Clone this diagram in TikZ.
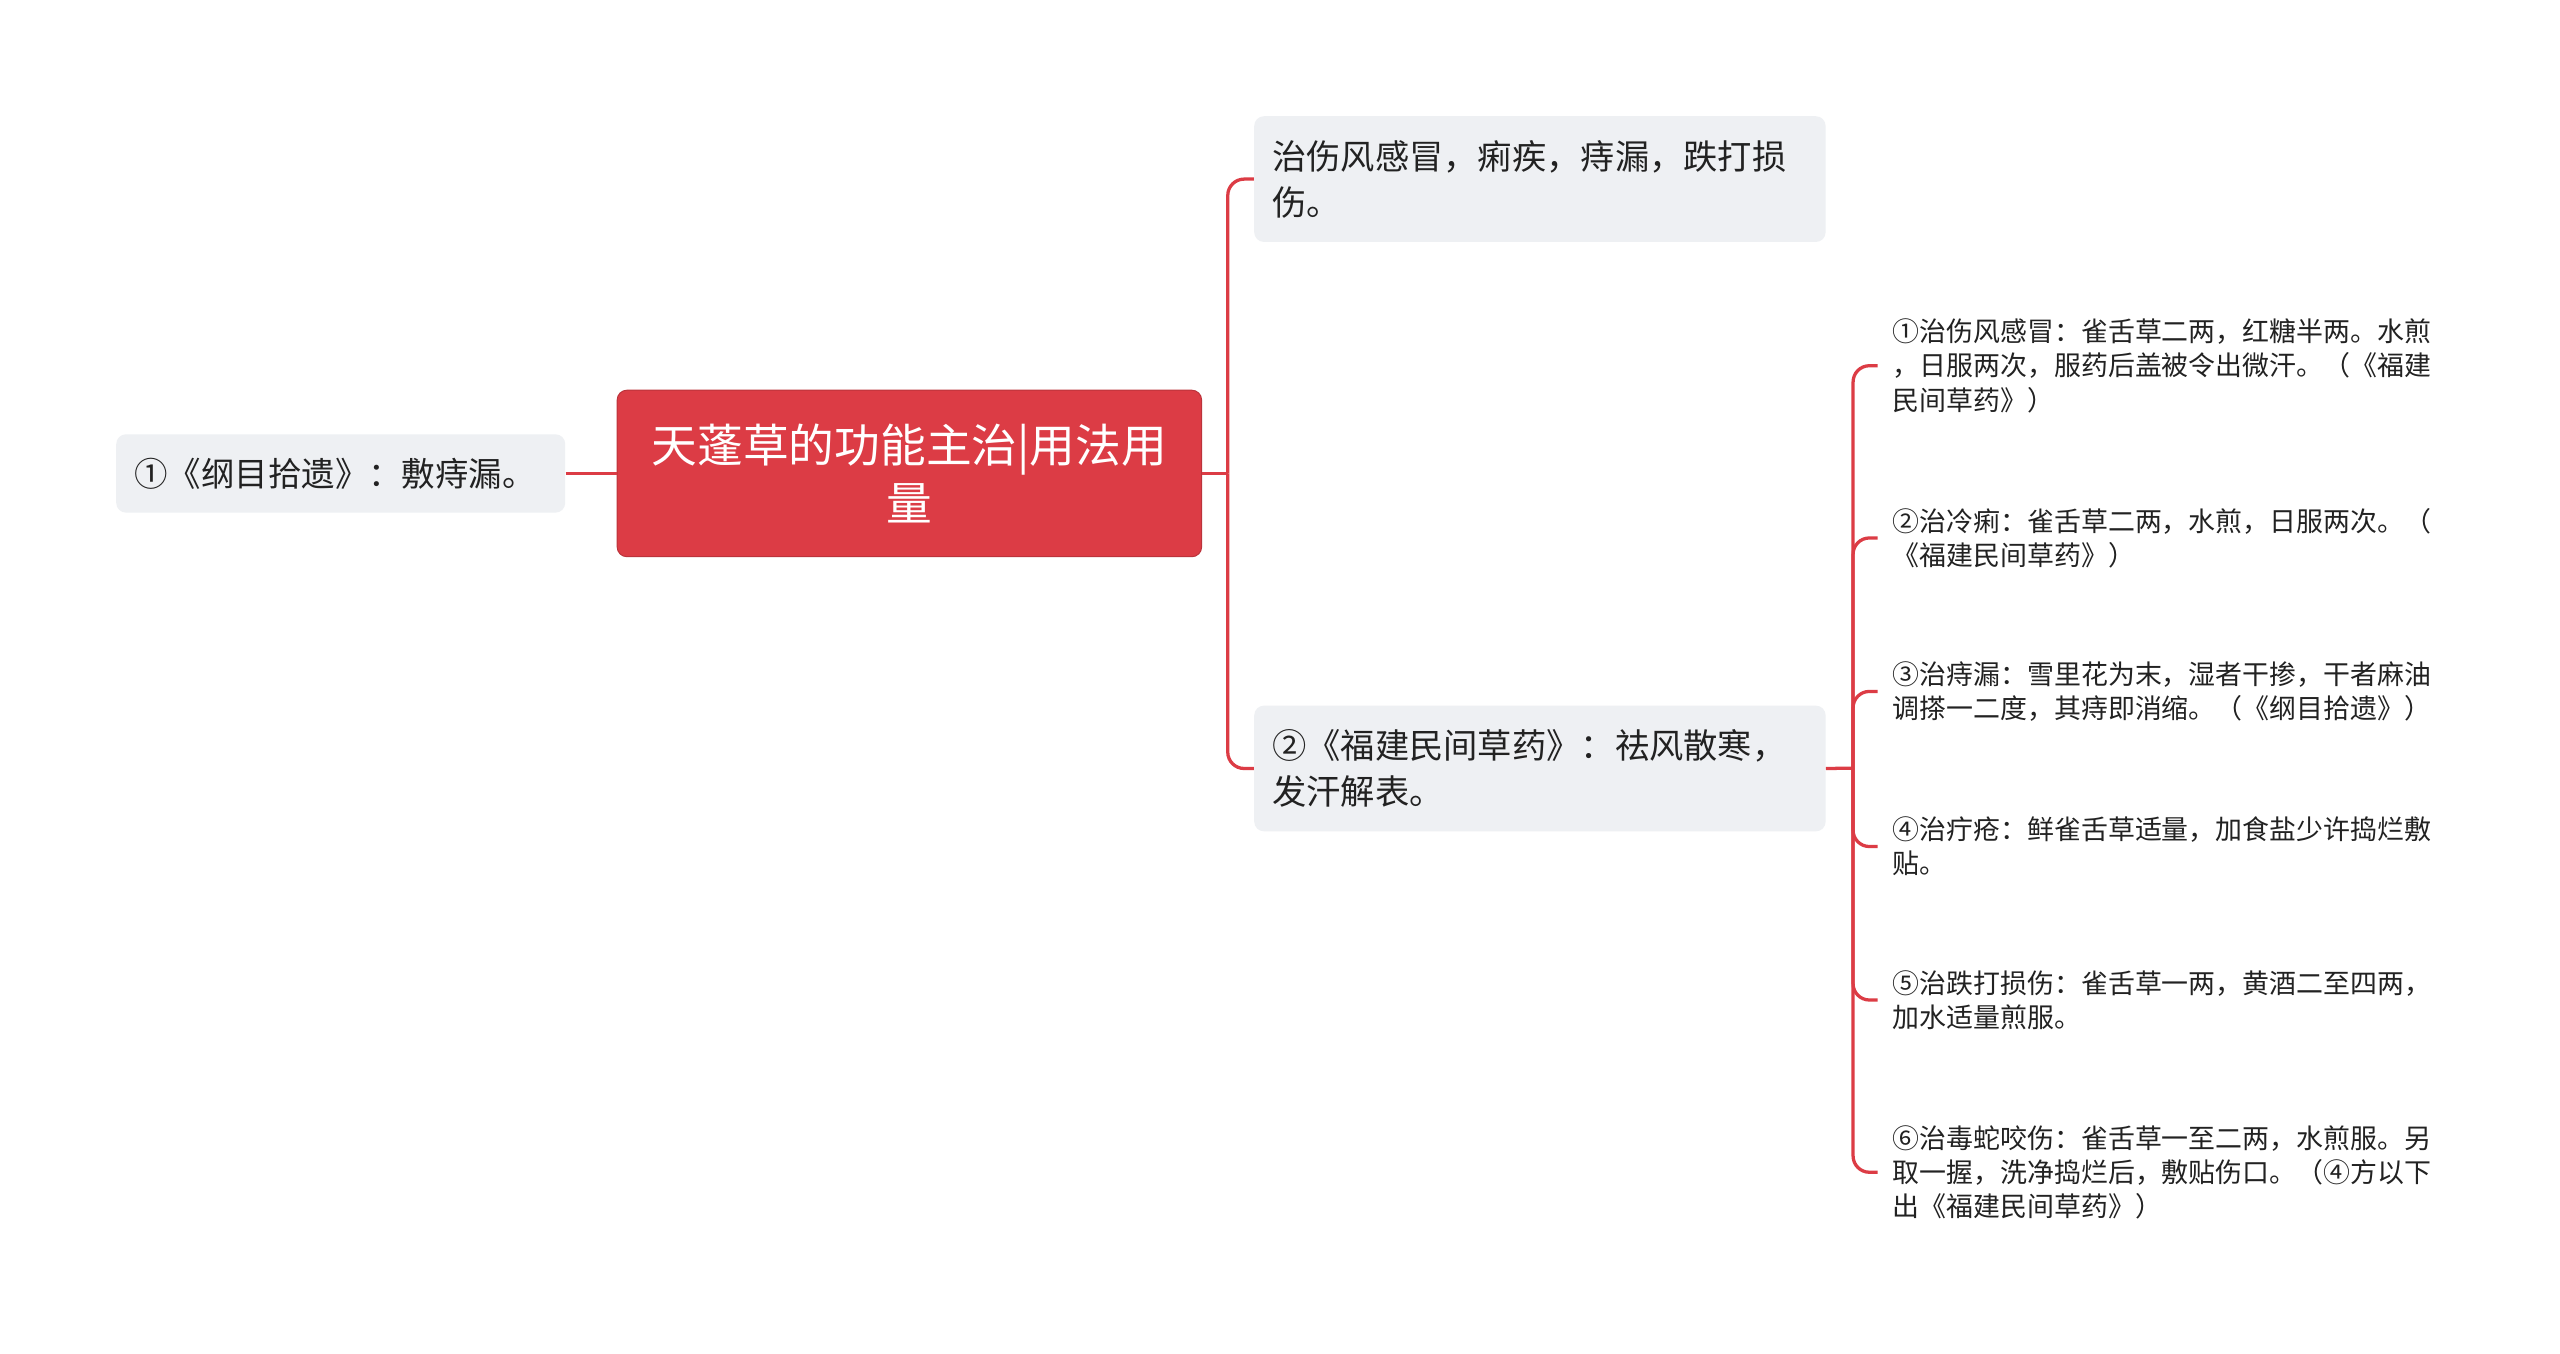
\documentclass[tikz,border=0pt]{standalone}
\usepackage{fontspec}
\setmainfont{Noto Sans CJK SC}
\definecolor{mmred}{HTML}{DC3C45}
\definecolor{mmgray}{HTML}{EEF0F3}
\definecolor{mmtext}{HTML}{222222}
\begin{document}
\begin{tikzpicture}[x=1pt,y=-1pt,
  box/.style={fill=mmgray, rounded corners=6pt, text=mmtext, inner xsep=11pt, inner ysep=0pt, align=left},
  rootbox/.style={fill=mmred, draw=mmred!85!black, line width=0.6pt, rounded corners=6pt, text=white, inner xsep=10pt, inner ysep=0pt, align=center},
  leaf/.style={anchor=west, inner xsep=9pt, inner ysep=2pt, text width=335pt, align=left, text=mmtext, font=\fontsize{16.5}{21}\selectfont},
  conn/.style={draw=mmred, line width=2pt, rounded corners=10pt}]
\fill[white] (0,0) rectangle (1568,829);
\useasboundingbox (0,0) rectangle (1568,829);

\node[rootbox, anchor=center, minimum width=358pt, minimum height=102pt, text width=338pt, font=\fontsize{28}{36}\selectfont] (root) at (557,290) {天蓬草的功能主治|用法用\\量};

\node[box, anchor=west, minimum width=275pt, minimum height=48pt, text width=253pt, font=\fontsize{20.5}{26}\selectfont] (left) at (71,290) {①《纲目拾遗》：敷痔漏。};

\node[box, anchor=north west, minimum width=350pt, minimum height=77pt, text width=328pt, font=\fontsize{21}{28}\selectfont] (t1) at (768,71) {治伤风感冒，痢疾，痔漏，跌打损\\伤。};

\node[box, anchor=north west, minimum width=350pt, minimum height=77pt, text width=328pt, font=\fontsize{21}{28}\selectfont] (t2) at (768,432) {②《福建民间草药》：祛风散寒，\\发汗解表。};

\node[leaf] (l1) at (1150,224) {①治伤风感冒：雀舌草二两，红糖半两。水煎\\，日服两次，服药后盖被令出微汗。（《福建\\民间草药》）};
\node[leaf] (l2) at (1150,329.5) {②治冷痢：雀舌草二两，水煎，日服两次。（\\《福建民间草药》）};
\node[leaf] (l3) at (1150,423.5) {③治痔漏：雪里花为末，湿者干掺，干者麻油\\调搽一二度，其痔即消缩。（《纲目拾遗》）};
\node[leaf] (l4) at (1150,518.5) {④治疔疮：鲜雀舌草适量，加食盐少许捣烂敷\\贴。};
\node[leaf] (l5) at (1150,612.5) {⑤治跌打损伤：雀舌草一两，黄酒二至四两，\\加水适量煎服。};
\node[leaf] (l6) at (1150,718) {⑥治毒蛇咬伤：雀舌草一至二两，水煎服。另\\取一握，洗净捣烂后，敷贴伤口。（④方以下\\出《福建民间草药》）};

\coordinate (ja) at (752,290);
\coordinate (jb) at (1135,470.5);

\draw[conn] (left.east) -- (root.west);
\draw[conn] (root.east) -- (ja);
\draw[conn] (ja) |- (t1.west);
\draw[conn] (ja) |- (t2.west);
\draw[conn] (t2.east) -- (jb);
\foreach \n in {l1,l2,l3,l4,l5,l6} {
  \draw[conn] (jb) |- (\n.west);
}
\end{tikzpicture}
\end{document}
